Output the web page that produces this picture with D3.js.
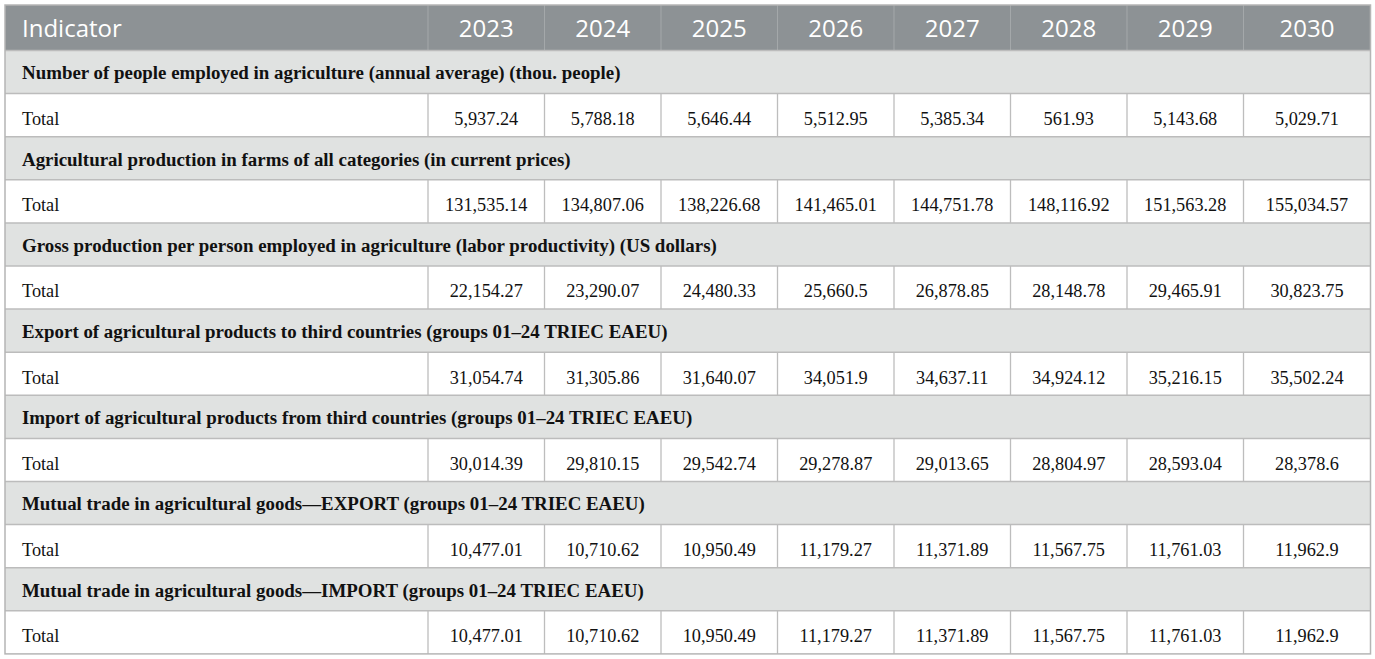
<!DOCTYPE html>
<html>
<head>
<meta charset="utf-8">
<script src="https://cdn.jsdelivr.net/npm/d3@7"></script>
<style>
  body { margin: 0; background: #fff; }
  .head-text { font-family: "Open Sans", sans-serif; font-size: 24px; fill: #fff; }
  .section-text { font-family: "Liberation Serif", serif; font-weight: bold; font-size: 18.9px; fill: #111; }
  .cell-text { font-family: "Liberation Serif", serif; font-size: 18.3px; fill: #111; }
</style>
</head>
<body>
<div id="table"></div>
<script>
// Données du tableau
const years = ["2023", "2024", "2025", "2026", "2027", "2028", "2029", "2030"];
const headerLabel = "Indicator";
const rowLabel = "Total";

const indicators = [
  "Number of people employed in agriculture (annual average) (thou. people)",
  "Agricultural production in farms of all categories (in current prices)",
  "Gross production per person employed in agriculture (labor productivity) (US dollars)",
  "Export of agricultural products to third countries (groups 01–24 TRIEC EAEU)",
  "Import of agricultural products from third countries (groups 01–24 TRIEC EAEU)",
  "Mutual trade in agricultural goods—EXPORT (groups 01–24 TRIEC EAEU)",
  "Mutual trade in agricultural goods—IMPORT (groups 01–24 TRIEC EAEU)"
];

const employed = ["5,937.24", "5,788.18", "5,646.44", "5,512.95", "5,385.34", "561.93", "5,143.68", "5,029.71"];
const production = ["131,535.14", "134,807.06", "138,226.68", "141,465.01", "144,751.78", "148,116.92", "151,563.28", "155,034.57"];
const productivity = ["22,154.27", "23,290.07", "24,480.33", "25,660.5", "26,878.85", "28,148.78", "29,465.91", "30,823.75"];
const exportThird = ["31,054.74", "31,305.86", "31,640.07", "34,051.9", "34,637.11", "34,924.12", "35,216.15", "35,502.24"];
const importThird = ["30,014.39", "29,810.15", "29,542.74", "29,278.87", "29,013.65", "28,804.97", "28,593.04", "28,378.6"];
const mutualExport = ["10,477.01", "10,710.62", "10,950.49", "11,179.27", "11,371.89", "11,567.75", "11,761.03", "11,962.9"];
const mutualImport = ["10,477.01", "10,710.62", "10,950.49", "11,179.27", "11,371.89", "11,567.75", "11,761.03", "11,962.9"];

const values = [employed, production, productivity, exportThird, importThird, mutualExport, mutualImport];

// Mise en page
const width = 1375, height = 659;
const tableLeft = 5, tableRight = 1370.5, tableTop = 5;
const firstColRight = 428;
const yearColWidth = 116.5;
const headerHeight = 45.5;
const rowHeight = 43.1;
const textPad = 17;

// Lignes : en-tête de section puis "Total"
const rows = [];
indicators.forEach((name, i) => {
  rows.push({ type: "section", label: name });
  rows.push({ type: "total", label: rowLabel, values: values[i] });
});

const yScale = d3.scaleBand()
  .domain(d3.range(rows.length))
  .range([tableTop + headerHeight, tableTop + headerHeight + rows.length * rowHeight]);

// bord gauche de chaque colonne année
const colLeft = d3.scaleLinear().domain([0, 1]).range([firstColRight, firstColRight + yearColWidth]);
const colRight = i => i === years.length - 1 ? tableRight : colLeft(i + 1);
const colCenter = i => (colLeft(i) + colRight(i)) / 2;

const tableBottom = yScale.range()[1];

const svg = d3.select("#table")
  .append("svg")
    .attr("width", width)
    .attr("height", height)
    .attr("viewBox", `0 0 ${width} ${height}`);

// HEADER
svg.append("rect")
  .attr("x", tableLeft)
  .attr("y", tableTop)
  .attr("width", tableRight - tableLeft)
  .attr("height", headerHeight)
  .attr("fill", "#8d9295");

svg.selectAll(".head-div")
  .data(years)
  .enter()
  .append("line")
    .attr("x1", (d, i) => colLeft(i))
    .attr("x2", (d, i) => colLeft(i))
    .attr("y1", tableTop)
    .attr("y2", tableTop + headerHeight)
    .attr("stroke", "#a4a8aa")
    .attr("stroke-width", 1);

svg.append("text")
  .attr("class", "head-text")
  .attr("x", tableLeft + textPad)
  .attr("y", tableTop + headerHeight / 2)
  .attr("dy", "0.39em")
  .text(headerLabel);

svg.selectAll(".head-year")
  .data(years)
  .enter()
  .append("text")
    .attr("class", "head-text")
    .attr("x", (d, i) => colCenter(i))
    .attr("y", tableTop + headerHeight / 2)
    .attr("dy", "0.39em")
    .attr("text-anchor", "middle")
    .text(d => d);

// ROWS
const rowG = svg.selectAll(".row")
  .data(rows)
  .enter()
  .append("g")
    .attr("class", "row")
    .attr("transform", (d, i) => `translate(0, ${yScale(i)})`);

rowG.append("rect")
  .attr("x", tableLeft)
  .attr("y", 0)
  .attr("width", tableRight - tableLeft)
  .attr("height", yScale.bandwidth())
  .attr("fill", d => d.type === "section" ? "#e0e2e1" : "#fff");

rowG.append("text")
  .attr("class", d => d.type === "section" ? "section-text" : "cell-text")
  .attr("x", tableLeft + textPad)
  .attr("y", yScale.bandwidth() / 2)
  .attr("dy", d => d.type === "section" ? "0.39em" : "0.54em")
  .text(d => d.label);

const totals = rowG.filter(d => d.type === "total");

totals.selectAll(".val")
  .data(d => d.values)
  .enter()
  .append("text")
    .attr("class", "cell-text")
    .attr("x", (d, i) => colCenter(i))
    .attr("y", yScale.bandwidth() / 2)
    .attr("dy", "0.54em")
    .attr("text-anchor", "middle")
    .text(d => d);

totals.selectAll(".vdiv")
  .data(years)
  .enter()
  .append("line")
    .attr("x1", (d, i) => colLeft(i))
    .attr("x2", (d, i) => colLeft(i))
    .attr("y1", 0)
    .attr("y2", yScale.bandwidth())
    .attr("stroke", "#bdbdbd")
    .attr("stroke-width", 1.3);

// GRID
svg.selectAll(".hline")
  .data(d3.range(rows.length))
  .enter()
  .append("line")
    .attr("x1", tableLeft)
    .attr("x2", tableRight)
    .attr("y1", i => yScale(i))
    .attr("y2", i => yScale(i))
    .attr("stroke", "#bcbcbc")
    .attr("stroke-width", 1.5);

// outer border
svg.append("rect")
  .attr("x", tableLeft)
  .attr("y", tableTop)
  .attr("width", tableRight - tableLeft)
  .attr("height", tableBottom - tableTop)
  .attr("fill", "none")
  .attr("stroke", "#b5b5b5")
  .attr("stroke-width", 1.5);
</script>
</body>
</html>
